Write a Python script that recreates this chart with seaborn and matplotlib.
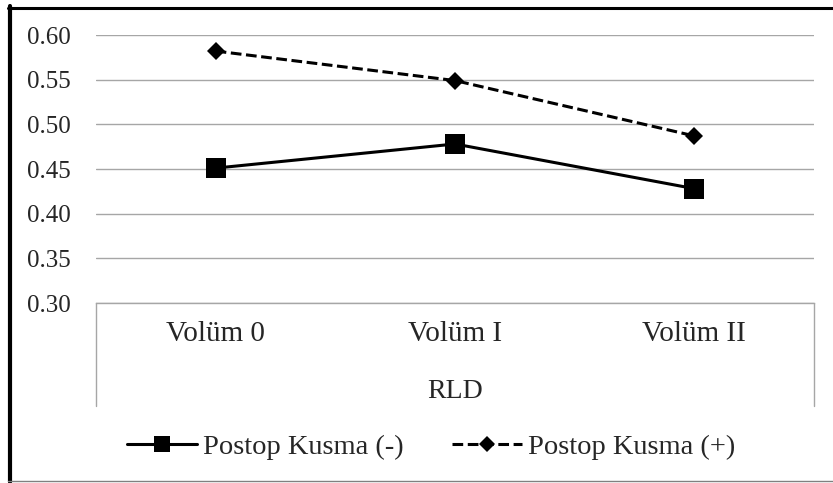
import pandas as pd
import seaborn as sns
import matplotlib.pyplot as plt
from matplotlib.lines import Line2D

# data
categories = ["Volüm 0", "Volüm I", "Volüm II"]
kusma_neg = [0.451, 0.478, 0.428]
kusma_pos = [0.582, 0.549, 0.487]
series_names = ["Postop Kusma (-)", "Postop Kusma (+)"]
y_ticks = [0.30, 0.35, 0.40, 0.45, 0.50, 0.55, 0.60]
group_label = "RLD"

df = pd.concat([
    pd.DataFrame({"volum": categories, "value": kusma_neg, "group": series_names[0]}),
    pd.DataFrame({"volum": categories, "value": kusma_pos, "group": series_names[1]}),
])

sns.set_theme(style="white")
plt.rcParams["font.family"] = ["Liberation Serif", "DejaVu Serif"]
plt.rcParams["font.size"] = 18

W, H = 833, 483
fig = plt.figure(figsize=(W / 100, H / 100), dpi=100)
ax = fig.add_axes([96 / W, 1 - 303 / H, (814 - 96) / W, 268 / H])

sns.lineplot(data=df, x="volum", y="value", hue="group", style="group",
             palette=["black", "black"],
             markers={series_names[0]: "s", series_names[1]: "D"},
             dashes={series_names[0]: "", series_names[1]: (3.5, 1.5)},
             markersize=14, linewidth=2.2, markeredgewidth=0,
             sort=False, legend=False, ax=ax)
ax.lines[1].set_markersize(9.5)

ax.set_xlim(-0.5, 2.5)
ax.set_ylim(0.30, 0.60)
ax.set_yticks(y_ticks)
ax.set_yticklabels(["{0:.2f}".format(v) for v in y_ticks], fontsize=18)
ax.set_xticks(range(len(categories)))
ax.set_xticklabels(categories, fontsize=21)
ax.yaxis.grid(True, color="#a6a6a6", linewidth=1)
ax.xaxis.grid(False)
ax.tick_params(axis="both", length=0)
ax.tick_params(axis="y", pad=18)
ax.tick_params(axis="x", pad=13)
for side in ["left", "right", "top"]:
    ax.spines[side].set_visible(False)
ax.spines["bottom"].set_color("#a6a6a6")
ax.spines["bottom"].set_linewidth(1)

ax.set_ylabel("")
ax.set_xlabel(group_label, fontsize=20)
ax.xaxis.set_label_coords(0.5, -(398 - 303) / 268)
ax.xaxis.label.set_va("baseline")

# category axis box sides
for xx in [0, 1]:
    ax.add_line(Line2D([xx, xx], [0, -(406 - 303) / 268], transform=ax.transAxes,
                       color="#a6a6a6", linewidth=1, clip_on=False))

ax.legend(handles=ax.lines[:2], labels=series_names, loc="center",
          bbox_to_anchor=(431 / W, 1 - 447 / H), bbox_transform=fig.transFigure,
          ncol=2, frameon=False, fontsize=20.5, handlelength=2.46,
          handletextpad=0.21, columnspacing=1.68, markerscale=0.85)

# chart frame
fig.add_artist(Line2D([8 / W, 1], [1 - 7.5 / H, 1 - 7.5 / H], color="black", linewidth=2.2))
fig.add_artist(Line2D([10 / W, 10 / W], [1 - 6 / H, 1 - 482 / H], color="black", linewidth=3))
fig.add_artist(Line2D([8 / W, 1], [1 - 481 / H, 1 - 481 / H], color="#808080", linewidth=1))

plt.savefig("out.png", dpi=100)
